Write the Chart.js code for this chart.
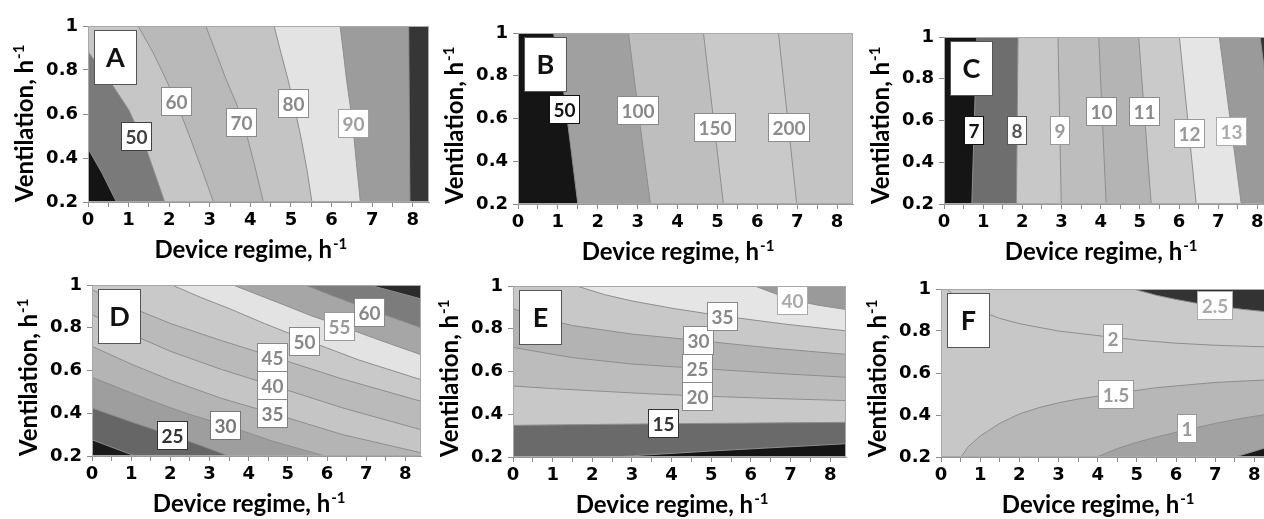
<!DOCTYPE html>
<html><head><meta charset="utf-8">
<script src="https://cdn.jsdelivr.net/npm/chart.js@4.4.0/dist/chart.umd.min.js"></script>
<style>
html,body{margin:0;padding:0;background:#fff;overflow:hidden;width:1264px;height:519px;position:relative;}
canvas{position:absolute;}
</style></head><body>
<canvas id="cA"></canvas><canvas id="cB"></canvas><canvas id="cC"></canvas>
<canvas id="cD"></canvas><canvas id="cE"></canvas><canvas id="cF"></canvas>
<script>
// ---------- shared axes ----------
const xTickLabels = [0,1,2,3,4,5,6,7,8];
const yTickLabels = [0.2,0.4,0.6,0.8,1];
const xRange = [0, 8.4];
const yRange = [0.2, 1];
const xTitle = 'Device regime, h';
const yTitle = 'Ventilation, h';
const titleSup = '-1';

// ---------- Panel A ----------
const aLineX = [[0,0.35,0.70],[0,0.5,1.0,1.4,1.89],[1.235,1.6,1.93,2.25,2.54,2.82,3.09],[2.90,3.15,3.41,3.65,3.86,4.1,4.32],[4.585,4.75,4.93,5.1,5.26,5.4,5.516],[6.21,6.29,6.37,6.45,6.52,6.61,6.71],[7.90,7.93]];
const aLineY = [[0.443,0.33,0.2],[0.883,0.76,0.62,0.46,0.2],[1,0.88,0.754,0.62,0.48,0.34,0.2],[1,0.88,0.754,0.65,0.54,0.37,0.2],[1,0.88,0.754,0.62,0.48,0.34,0.2],[1,0.88,0.754,0.65,0.56,0.38,0.2],[1,0.2]];
const aLabels = ['50','60','70','80','90'];
const aLabelX = [1.20,2.17,3.78,5.06,6.55];
const aLabelY = [0.50,0.655,0.56,0.648,0.559];

// ---------- Panel B ----------
const bLineX = [[0.89,1.15,1.3,1.5],[2.77,3.04,3.32],[4.65,4.9,5.15],[6.53,6.76,6.99]];
const bLineY = [[1,0.72,0.5,0.2],[1,0.6,0.2],[1,0.6,0.2],[1,0.6,0.2]];
const bLabels = ['50','100','150','200'];
const bLabelX = [1.175,3.02,4.94,6.79];
const bLabelY = [0.641,0.638,0.556,0.556];

// ---------- Panel C ----------
const cLineX = [[0.84,0.71],[1.89,1.85],[2.91,2.995],[3.95,4.14],[4.97,5.29],[6.01,6.44],[7.03,7.59],[8.07,8.4]];
const cLineY = [[1,0.2],[1,0.2],[1,0.2],[1,0.2],[1,0.2],[1,0.2],[1,0.2],[1,0.53]];
const cLabels = ['7','8','9','10','11','12','13'];
const cLabelX = [0.775,1.87,2.96,4.03,5.115,6.26,7.33];
const cLabelY = [0.554,0.554,0.554,0.641,0.641,0.536,0.547];

// ---------- Panel D ----------
const dLineX = [[0,1.1],[0,1,2.06,2.8,3.49],[0,0.8,1.5,2.4,3.42,4.6,5.95],[0,1,2,3.3,4.61,6.4,8.4],[0,1,2,3.3,4.61,6.4,8.4],[0,1,2,3.3,4.61,6.4,8.4],[2.04,2.8,3.5,4.4,5.43,6.8,8.4],[3.6,4.3,5,5.6,6.33,7.3,8.4],[5.44,6.2,7.09,8.4],[7.08,8.4]];
const dLineY = [[0.276,0.2],[0.425,0.36,0.295,0.248,0.2],[0.568,0.51,0.46,0.4,0.344,0.27,0.2],[0.713,0.63,0.555,0.47,0.40,0.3,0.215],[0.861,0.77,0.69,0.605,0.53,0.425,0.323],[0.978,0.895,0.82,0.74,0.665,0.56,0.456],[1,0.94,0.89,0.82,0.745,0.65,0.557],[1,0.95,0.9,0.856,0.81,0.745,0.674],[1,0.945,0.885,0.80],[1,0.935]];
const dLabels = ['25','30','35','40','45','50','55','60'];
const dLabelX = [2.06,3.42,4.61,4.61,4.61,5.43,6.33,7.09];
const dLabelY = [0.297,0.344,0.398,0.528,0.663,0.738,0.804,0.872];

// ---------- Panel E ----------
const eLineX = [[2.5,5,8.4],[0,4,8.4],[0,1,2,3.3,4.65,6.5,8.4],[0,0.7,1.5,3,4.65,6.5,8.4],[0,0.7,1.5,3,4.68,6.5,8.4],[1.61,2.3,3,4.1,5.28,6.8,8.4],[6.1,6.6,7.05,7.7,8.4]];
const eLineY = [[0.2,0.228,0.262],[0.348,0.356,0.362],[0.532,0.52,0.51,0.497,0.486,0.474,0.464],[0.713,0.69,0.665,0.635,0.615,0.593,0.573],[0.894,0.85,0.815,0.775,0.745,0.71,0.68],[1,0.96,0.93,0.893,0.86,0.823,0.79],[1,0.965,0.935,0.91,0.89]];
const eLabels = ['15','20','25','30','35','40'];
const eLabelX = [3.79,4.65,4.65,4.68,5.28,7.05];
const eLabelY = [0.357,0.481,0.613,0.747,0.859,0.93];

// ---------- Panel F ----------
const fLineX = [[7.51,8.4],[3.98,4.5,5.0,5.5,6.29,7.0,7.7,8.4],[0.51,0.7,1.0,1.5,2.0,2.5,3.0,3.5,4.46,5.5,7.0,8.4],[0.15,0.5,1.0,1.5,2.0,3.0,4.23,5.0,6.0,7.0,8.4],[4.91,5.5,6.0,6.5,7.0,7.7,8.4]];
const fLineY = [[0.2,0.25],[0.2,0.24,0.27,0.295,0.33,0.36,0.385,0.405],[0.2,0.25,0.3,0.36,0.405,0.435,0.458,0.476,0.503,0.53,0.555,0.568],[1,0.945,0.895,0.86,0.835,0.8,0.773,0.757,0.742,0.732,0.724],[1,0.97,0.95,0.933,0.92,0.903,0.89]];
const fLabels = ['1','1.5','2','2.5'];
const fLabelX = [6.29,4.46,4.38,6.99];
const fLabelY = [0.335,0.499,0.764,0.921];

// ---------- styles ----------
const aFill = ['#141414','#7a7a7a','#c6c6c6','#b9b9b9','#c4c4c4','#e3e3e3','#9c9c9c','#363636'];
const bFill = ['#151515','#a0a0a0','#bebebe','#c9c9c9','#c4c4c4'];
const cFill = ['#151515','#6e6e6e','#c8c8c8','#bdbdbd','#b4b4b4','#cacaca','#e5e5e5','#9a9a9a','#343434'];
const dFill = ['#1a1a1a','#666666','#9e9e9e','#b4b4b4','#c5c5c5','#bababa','#c9c9c9','#e3e3e3','#a6a6a6','#7c7c7c','#2b2b2b'];
const eFill = ['#151515','#6a6a6a','#c8c8c8','#bcbcbc','#b3b3b3','#c8c8c8','#e5e5e5','#9a9a9a'];
const fFill = ['#1a1a1a','#a2a2a2','#b7b7b7','#c7c7c7','#cacaca','#333333'];
const aLabelColor = ['#404040','#8a8a8a','#8a8a8a','#8a8a8a','#a0a0a0'];
const bLabelColor = ['#111111','#888888','#8c8c8c','#8c8c8c'];
const cLabelColor = ['#111111','#555555','#999999','#8a8a8a','#8a8a8a','#999999','#aaaaaa'];
const dLabelColor = ['#333333','#777777','#808080','#888888','#888888','#888888','#999999','#888888'];
const eLabelColor = ['#333333','#888888','#888888','#888888','#888888','#aaaaaa'];
const fLabelColor = ['#999999','#999999','#999999','#aaaaaa'];

// plot rectangles in page pixels [left, top, right, bottom]
const PAD_TOP = 28, Y_AXIS_W = 90, X_AXIS_H = 60, PAD_RIGHT = 4;
const panels = [
  {id:'cA', letter:'A', rect:[88,26,429,202], lx:aLineX, ly:aLineY, fill:aFill, lab:aLabels, labX:aLabelX, labY:aLabelY, labC:aLabelColor},
  {id:'cB', letter:'B', rect:[518,33,853,204], lx:bLineX, ly:bLineY, fill:bFill, lab:bLabels, labX:bLabelX, labY:bLabelY, labC:bLabelColor},
  {id:'cC', letter:'C', rect:[944,37,1273,204], lx:cLineX, ly:cLineY, fill:cFill, lab:cLabels, labX:cLabelX, labY:cLabelY, labC:cLabelColor},
  {id:'cD', letter:'D', rect:[92,285,421,456], lx:dLineX, ly:dLineY, fill:dFill, lab:dLabels, labX:dLabelX, labY:dLabelY, labC:dLabelColor},
  {id:'cE', letter:'E', rect:[513,286,846,457], lx:eLineX, ly:eLineY, fill:eFill, lab:eLabels, labX:eLabelX, labY:eLabelY, labC:eLabelColor},
  {id:'cF', letter:'F', rect:[941,289,1270,457], lx:fLineX, ly:fLineY, fill:fFill, lab:fLabels, labX:fLabelX, labY:fLabelY, labC:fLabelColor}
];

// ---------- geometry helpers: region on the high side of a contour ----------
const X0 = xRange[0], X1 = xRange[1], Y0 = yRange[0], Y1 = yRange[1];
const EPS = 1e-6, FX = 1, FY = 0.2;
function edgeOf(p){
  if (Math.abs(p.x - X0) < EPS) return 'L';
  if (Math.abs(p.y - Y1) < EPS) return 'T';
  if (Math.abs(p.x - X1) < EPS) return 'R';
  return 'B';
}
function perim(p){
  const e = edgeOf(p);
  if (e === 'L') return (p.y - Y0)/(Y1 - Y0);
  if (e === 'T') return 1 + (p.x - X0)/(X1 - X0);
  if (e === 'R') return 2 + (Y1 - p.y)/(Y1 - Y0);
  return 3 + (X1 - p.x)/(X1 - X0);
}
function outward(p){
  const e = edgeOf(p);
  if (e === 'L') return {x:X0 - FX, y:p.y};
  if (e === 'T') return {x:p.x, y:Y1 + FY};
  if (e === 'R') return {x:X1 + FX, y:p.y};
  return {x:p.x, y:Y0 - FY};
}
const farCorner = [{x:X0-FX,y:Y0-FY},{x:X0-FX,y:Y1+FY},{x:X1+FX,y:Y1+FY},{x:X1+FX,y:Y0-FY}];
function highSide(xs, ys){
  const pts = xs.map((x,i)=>({x:x, y:ys[i]}));
  const a = pts[0], b = pts[pts.length-1];
  const sS = perim(a), sE = perim(b);
  let t = sS; if (t > sE) t -= 4;
  const corners = [];
  for (let c = Math.ceil(sE - 1e-9) - 1; c > t + 1e-9; c--) corners.push(farCorner[((c % 4) + 4) % 4]);
  return [outward(a), ...pts, outward(b), ...corners];
}

// ---------- plugin: background, frame, labels, letter box, axis titles ----------
function decoPlugin(P){
  return {
    id:'deco'+P.letter,
    beforeDatasetsDraw(chart){
      const a = chart.chartArea, ctx = chart.ctx;
      ctx.save(); ctx.fillStyle = P.fill[0];
      ctx.fillRect(a.left, a.top, a.right - a.left, a.bottom - a.top); ctx.restore();
    },
    afterDatasetsDraw(chart){
      const a = chart.chartArea, ctx = chart.ctx, xs = chart.scales.x, ys = chart.scales.y;
      ctx.save();
      ctx.strokeStyle = '#a9a9a9'; ctx.lineWidth = 1;
      ctx.strokeRect(a.left + 0.5, a.top + 0.5, a.right - a.left - 1, a.bottom - a.top - 1);
      // contour value labels
      ctx.font = 'bold 19px Lato';
      ctx.textAlign = 'center'; ctx.textBaseline = 'middle';
      P.lab.forEach((txt,i)=>{
        const px = xs.getPixelForValue(P.labX[i]), py = ys.getPixelForValue(P.labY[i]);
        const w = Math.round(ctx.measureText(txt).width + 9), h = 29;
        const l = Math.round(px - w/2), tp = Math.round(py - h/2);
        ctx.fillStyle = '#ffffff'; ctx.fillRect(l, tp, w, h);
        ctx.strokeStyle = P.labC[i]; ctx.strokeRect(l + 0.5, tp + 0.5, w - 1, h - 1);
        ctx.fillStyle = P.labC[i]; ctx.fillText(txt, l + w/2, tp + h/2 + 1);
      });
      // panel letter
      const bl = Math.round(a.left + 6), bt = Math.round(a.top + 4);
      ctx.fillStyle = '#ffffff'; ctx.fillRect(bl, bt, 43, 55);
      ctx.strokeStyle = '#555555'; ctx.strokeRect(bl + 0.5, bt + 0.5, 42, 54);
      ctx.fillStyle = '#111111'; ctx.font = 'bold 27px Lato';
      ctx.fillText(P.letter, bl + 21.5, bt + 28);
      ctx.restore();
    },
    afterDraw(chart){
      const a = chart.chartArea, ctx = chart.ctx, xs = chart.scales.x;
      ctx.save(); ctx.fillStyle = '#000'; ctx.textBaseline = 'alphabetic'; ctx.textAlign = 'left';
      const mainF = 'bold 24px Lato', supF = 'bold 15px Lato';
      ctx.font = mainF; const wm = ctx.measureText(xTitle).width;
      ctx.font = supF; const ws = ctx.measureText(titleSup).width;
      const cx = xs.getPixelForValue(xTickLabels[Math.floor(xTickLabels.length/2)]);
      const by = a.bottom + 56, sx = cx - (wm + ws)/2;
      ctx.font = mainF; ctx.fillText(xTitle, sx, by);
      ctx.font = supF; ctx.fillText(titleSup, sx + wm + 1, by - 9);
      ctx.translate(a.left - 55, a.bottom); ctx.rotate(-Math.PI/2);
      ctx.font = mainF; const wy = ctx.measureText(yTitle).width; ctx.fillText(yTitle, 0, 0);
      ctx.font = supF; ctx.fillText(titleSup, wy + 1, -9);
      ctx.restore();
    }
  };
}

// ---------- build charts ----------
const minorX = [];
xTickLabels.forEach((v,i)=>{ minorX.push(v); if (i < xTickLabels.length-1) minorX.push((v + xTickLabels[i+1])/2); });

panels.forEach(P=>{
  const [L,T,R,B] = P.rect;
  const cv = document.getElementById(P.id);
  const cw = (R - L) + Y_AXIS_W + PAD_RIGHT, ch = (B - T) + PAD_TOP + X_AXIS_H;
  cv.width = cw; cv.height = ch;
  cv.style.left = (L - Y_AXIS_W) + 'px'; cv.style.top = (T - PAD_TOP) + 'px';
  cv.style.width = cw + 'px'; cv.style.height = ch + 'px';
  const n = P.lx.length;
  const datasets = [];
  for (let k = 0; k < n; k++) {
    datasets.push({
      data: highSide(P.lx[k], P.ly[k]), showLine:true, fill:'shape',
      backgroundColor: P.fill[k+1], borderWidth:0, borderColor:'rgba(0,0,0,0)',
      pointRadius:0, tension:0, order: 1000 - k
    });
  }
  for (let k = 0; k < n; k++) {
    datasets.push({
      data: P.lx[k].map((x,i)=>({x:x, y:P.ly[k][i]})), showLine:true, fill:false,
      borderColor:'#8e8e8e', borderWidth:1, pointRadius:0, tension:0, order:1
    });
  }
  new Chart(cv, {
    type:'scatter',
    data:{datasets},
    options:{
      responsive:false, animation:false, devicePixelRatio:1, events:[],
      layout:{padding:{top:PAD_TOP, right:PAD_RIGHT, left:0, bottom:0}},
      plugins:{legend:{display:false}, tooltip:{enabled:false}},
      scales:{
        x:{type:'linear', min:X0, max:X1,
          afterFit(s){ s.height = X_AXIS_H; },
          afterBuildTicks(s){ s.ticks = minorX.map(v=>({value:v})); },
          ticks:{autoSkip:false, maxRotation:0, padding:3, color:'#000',
            font:{family:'DejaVu Sans', weight:'bold', size:18},
            callback:(v)=> xTickLabels.includes(v) ? String(v) : ''},
          grid:{drawOnChartArea:false, drawTicks:true, tickLength:5, color:'#8a8a8a'},
          border:{display:true, color:'#9a9a9a'}
        },
        y:{type:'linear', min:Y0, max:Y1,
          afterFit(s){ s.width = Y_AXIS_W; },
          afterBuildTicks(s){ s.ticks = yTickLabels.map(v=>({value:v})); },
          ticks:{autoSkip:false, padding:5, color:'#000',
            font:{family:'DejaVu Sans', weight:'bold', size:18},
            callback:(v)=> (Math.abs(v-1)<1e-9 ? '1' : v.toFixed(1))},
          grid:{drawOnChartArea:false, drawTicks:true, tickLength:5, color:'#8a8a8a'},
          border:{display:true, color:'#9a9a9a'}
        }
      }
    },
    plugins:[decoPlugin(P)]
  });
});
</script>
</body></html>
